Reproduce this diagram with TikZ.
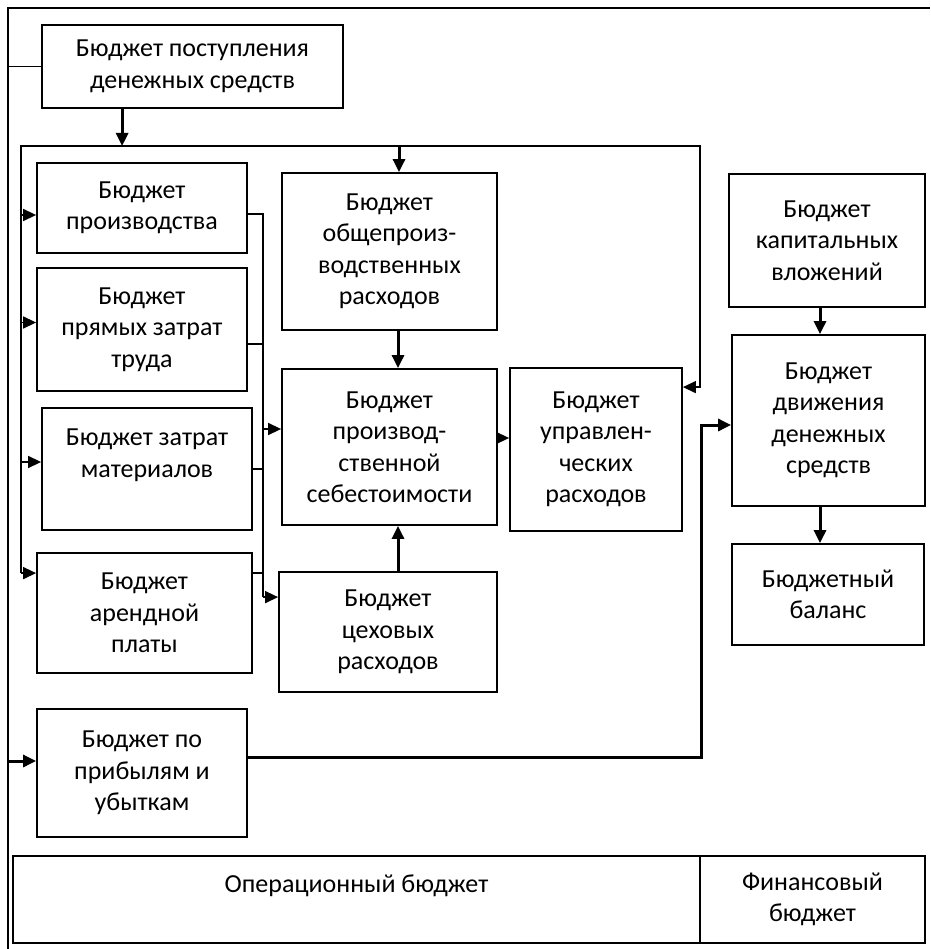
\documentclass[tikz,border=0pt]{standalone}
\usepackage{fontspec}
\setmainfont{Carlito}
\usetikzlibrary{arrows.meta}

\tikzset{
  box/.style={draw, line width=1.8pt, align=center, inner sep=0pt},
  wire/.style={line width=1.5pt},
  arr/.style={wire, -{Triangle[length=13pt,width=12pt]}},
  big/.style={line width=3pt, -{Triangle[length=13pt,width=12pt]}},
}

\begin{document}
\begin{tikzpicture}[x=1pt, y=-1pt, font=\fontsize{26}{31.5}\selectfont]
  \useasboundingbox (0,0) rectangle (930,949);
  % outer frame
  \coordinate (frame) at (8,8);
  \draw[wire] (8,949) -- (frame) -- (930,8);

  % operating budget
  \node[box, minimum width=301pt, minimum height=83pt] (postup) at (192.5,66.5) {Бюджет поступления\\денежных средств};
  \node[box, minimum width=210pt, minimum height=90pt] (proizv) at (142,208) {Бюджет\\производства};
  \node[box, minimum width=210pt, minimum height=123pt] (trud) at (142,329.5) {Бюджет\\прямых затрат\\труда};
  \node[box, minimum width=210pt, minimum height=122pt] (mater) at (147,469) {Бюджет затрат\\материалов\\~};
  \node[box, minimum width=215pt, minimum height=120pt] (arend) at (144.5,613) {Бюджет\\арендной\\платы};
  \node[box, minimum width=210pt, minimum height=128pt] (pribyl) at (142,773) {Бюджет по\\прибылям и\\убыткам};
  \node[box, minimum width=215pt, minimum height=157pt] (obshch) at (389.5,251.5) {Бюджет\\общепроиз-\\водственных\\расходов};
  \node[box, minimum width=215pt, minimum height=156pt] (sebest) at (389.5,447) {Бюджет\\производ-\\ственной\\себестоимости};
  \node[box, minimum width=218pt, minimum height=120pt] (tsekh) at (388,632) {Бюджет\\цеховых\\расходов};
  \node[box, minimum width=172pt, minimum height=163pt] (upravl) at (596,449.5) {Бюджет\\управлен-\\ческих\\расходов};

  % financial budget
  \node[box, minimum width=196pt, minimum height=133pt] (kapital) at (827,240.5) {Бюджет\\капитальных\\вложений};
  \node[box, minimum width=193pt, minimum height=171pt] (dvizh) at (828.5,420.5) {Бюджет\\движения\\денежных\\средств};
  \node[box, minimum width=192pt, minimum height=101pt] (balans) at (828,594.5) {Бюджетный\\баланс};

  % legend row
  \node[box, minimum width=687pt, minimum height=87pt] (oper) at (356.5,899.5) {Операционный бюджет\\~};
  \node[box, minimum width=225pt, minimum height=87pt] (fin) at (812.5,899.5) {Финансовый\\бюджет};

  % entry and exit points
  \coordinate (bus) at (21,146);
  \coordinate (busR) at (700,146);
  \coordinate (col) at (263,214);
  \coordinate (inProizv) at ([yshift=-7pt]proizv.west);
  \coordinate (inTrud) at ([yshift=7pt]trud.west);
  \coordinate (inMater) at ([yshift=7pt]mater.west);
  \coordinate (inArend) at ([yshift=-21pt]arend.north west);
  \coordinate (outProizv) at ([yshift=-6pt]proizv.east);
  \coordinate (outTrud) at ([yshift=-14.5pt]trud.east);
  \coordinate (outArend) at ([yshift=-21pt]arend.north east);
  \coordinate (inSebest) at ([yshift=18pt]sebest.west);
  \coordinate (inTsekh) at ([yshift=-26pt]tsekh.north west);
  \coordinate (inObshch) at ([xshift=9.5pt]obshch.north);
  \coordinate (inUpravl) at ([yshift=-20pt]upravl.north east);
  \coordinate (outSebest) at ([yshift=9pt]sebest.east);
  \coordinate (inPribyl) at ([yshift=12pt]pribyl.west);

  % connectors
  \draw[wire] (postup.west -| frame) -- (postup.west);
  \draw[big] ([xshift=81pt]postup.south west) -- ([xshift=81pt]postup.south west |- bus);
  \draw[arr] (inArend -| bus) -- (bus) -- (busR) |- (inUpravl);
  \draw[arr] (bus |- inProizv) -- (inProizv);
  \draw[arr] (bus |- inTrud) -- (inTrud);
  \draw[arr] (bus |- inMater) -- (inMater);
  \draw[arr] (inArend -| bus) -- (inArend);
  \draw[big] (inObshch |- bus) -- (inObshch);

  \draw[wire] (outProizv) -- (col) -- (col |- inTsekh);
  \draw[wire] (outTrud) -- (outTrud -| col);
  \draw[wire] (mater.east) -- (mater.east -| col);
  \draw[wire] (outArend) -- (outArend -| col);
  \draw[arr] (col |- inSebest) -- (inSebest);
  \draw[arr] (col |- inTsekh) -- (inTsekh);

  \draw[big] ([xshift=8.5pt]obshch.south) -- ([xshift=8.5pt]sebest.north);
  \draw[big] ([xshift=10pt]tsekh.north) -- ([xshift=8.5pt]sebest.south);
  \draw[arr] (outSebest) -- (outSebest -| upravl.west);

  \draw[big] ([xshift=-7pt]kapital.south) -- ([xshift=-8.5pt]dvizh.north);
  \draw[big] ([xshift=-8.5pt]dvizh.south) -- ([xshift=-8pt]balans.north);
  \draw[big] ([yshift=16pt]pribyl.east) -- ++(454,0) |- ([yshift=-4.5pt]dvizh.west);
  \draw[big] (inPribyl -| frame) -- (inPribyl);
\end{tikzpicture}
\end{document}
